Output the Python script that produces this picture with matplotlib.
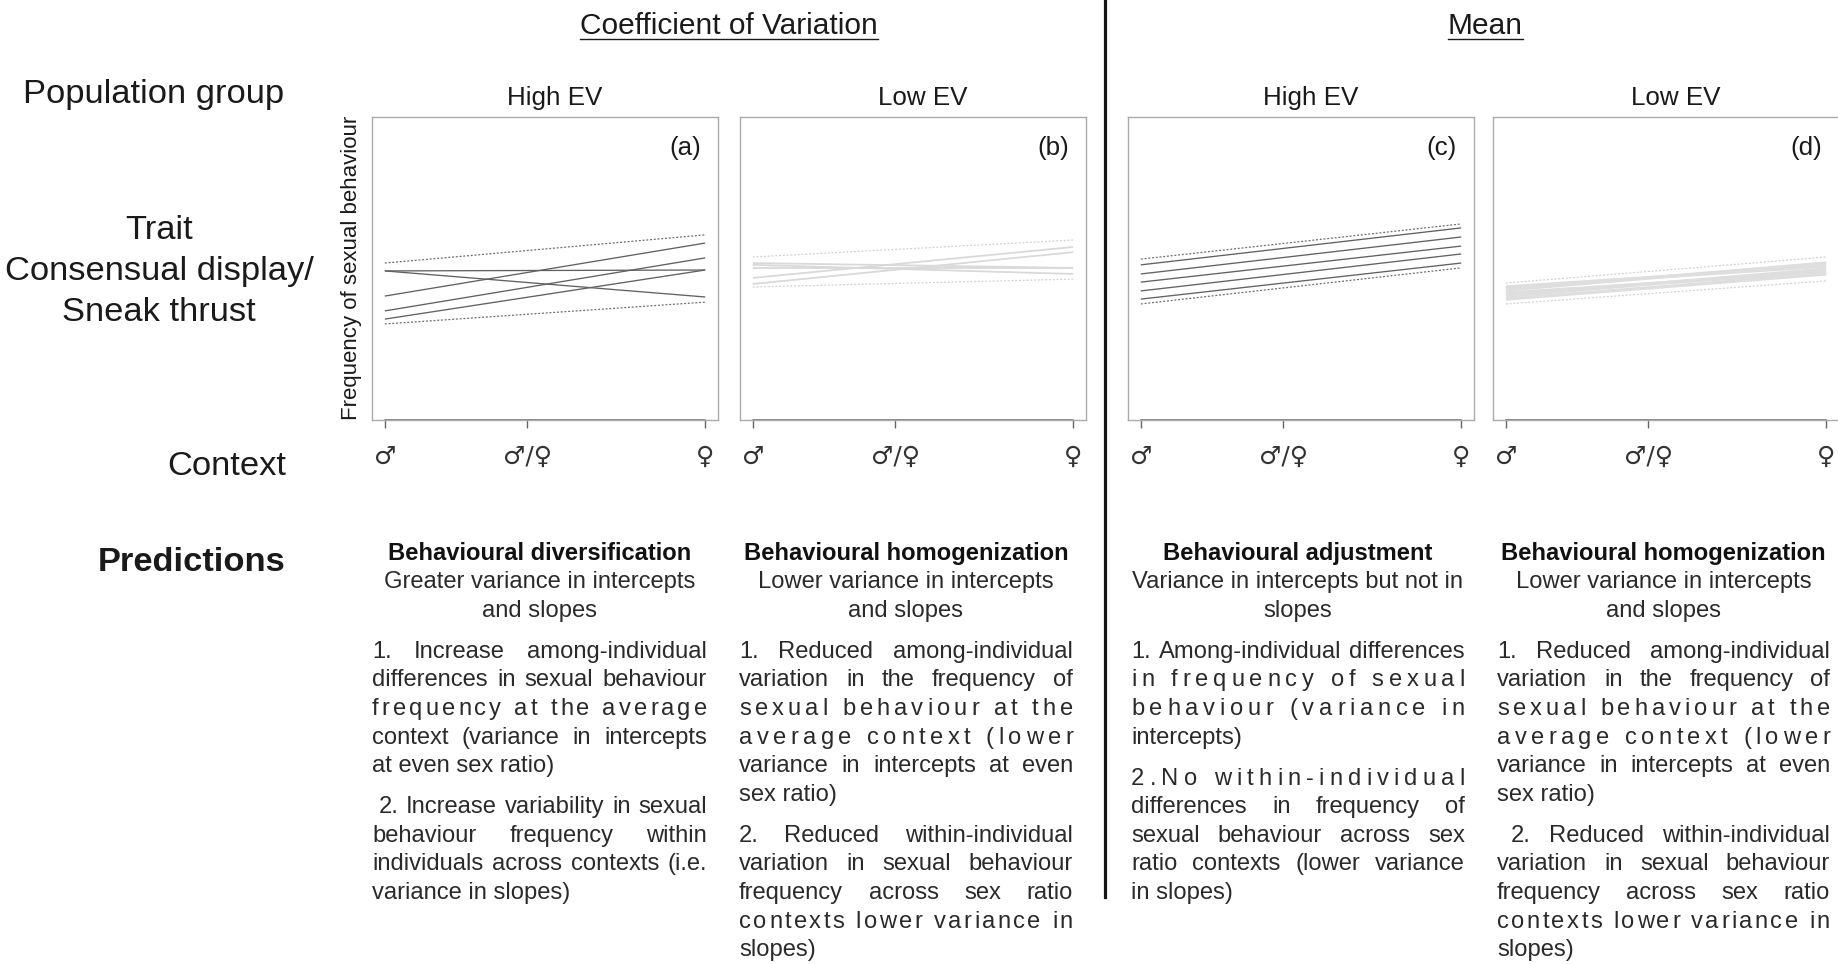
import matplotlib
matplotlib.use('Agg')
import matplotlib.pyplot as plt

W, H = 1838, 964
plt.rcParams['font.family'] = ['Liberation Sans', 'DejaVu Sans']

# ---- data ----
section_titles = ['Coefficient of Variation', 'Mean']
row_labels = ['Population group', 'Context', 'Predictions']
trait_lines = ['Trait', 'Consensual display/', 'Sneak thrust']
panel_titles = ['High EV', 'Low EV', 'High EV', 'Low EV']
panel_tags = ['(a)', '(b)', '(c)', '(d)']
context_x = [-1, 0, 1.25]
context_labels = ['\u2642', '\u2642/\u2640', '\u2640']
ylabel = 'Frequency of sexual behaviour'

# reaction norms: frequency at the male-biased and at the female-biased context
a_start = [4.92, 4.92, 4.09, 3.60, 3.33]
a_end = [4.95, 4.06, 5.84, 5.35, 4.95]
a_lim_start = [5.18, 3.17]
a_lim_end = [6.11, 3.89]

b_start = [5.18, 5.02, 5.12, 4.69, 4.49]
b_end = [5.02, 5.02, 4.82, 5.71, 5.54]
b_lim_start = [5.38, 4.39]
b_lim_end = [5.94, 4.65]

c_start = [5.12, 4.82, 4.55, 4.26, 3.99]
c_end = [6.34, 6.04, 5.74, 5.48, 5.18]
c_lim_start = [5.31, 3.83]
c_lim_end = [6.47, 5.02]

d_start = [4.39, 4.29, 4.19, 4.09, 3.99]
d_end = [5.08, 5.18, 4.88, 4.98, 4.82]
d_lim_start = [4.52, 3.83]
d_lim_end = [5.38, 4.59]

pred_titles = ['Behavioural diversification', 'Behavioural homogenization',
               'Behavioural adjustment', 'Behavioural homogenization']
pred_sub = [['Greater variance in intercepts', 'and slopes'],
            ['Lower variance in intercepts', 'and slopes'],
            ['Variance in intercepts but not in', 'slopes'],
            ['Lower variance in intercepts', 'and slopes']]
pred_p1 = [['1. Increase among-individual', 'differences in sexual behaviour',
            'frequency at the average', 'context (variance in intercepts',
            'at even sex ratio)'],
           ['1. Reduced among-individual', 'variation in the frequency of',
            'sexual behaviour at the', 'average context (lower',
            'variance in intercepts at even', 'sex ratio)'],
           ['1. Among-individual differences', 'in frequency of sexual',
            'behaviour (variance in', 'intercepts)'],
           ['1. Reduced among-individual', 'variation in the frequency of',
            'sexual behaviour at the', 'average context (lower',
            'variance in intercepts at even', 'sex ratio)']]
pred_p2 = [[' 2. Increase variability in sexual', 'behaviour frequency within',
            'individuals across contexts (i.e.', 'variance in slopes)'],
           ['2. Reduced within-individual', 'variation in sexual behaviour',
            'frequency across sex ratio', 'contexts lower variance in', 'slopes)'],
           ['2.No within-individual', 'differences in frequency of',
            'sexual behaviour across sex', 'ratio contexts (lower variance',
            'in slopes)'],
           ['  2. Reduced within-individual', 'variation in sexual behaviour',
            'frequency across sex ratio', 'contexts lower variance in', 'slopes)']]
# lines that the original spreads letter by letter instead of word by word
letter_spaced = {'frequency at the average', 'sexual behaviour at the',
                 'average context (lower', 'in frequency of sexual',
                 'behaviour (variance in', '2.No within-individual',
                 'contexts lower variance in'}

# ---- figure ----
fig = plt.figure(figsize=(W / 100, H / 100), dpi=100)
ax0 = fig.add_axes([0, 0, 1, 1])
ax0.set_xlim(0, W)
ax0.set_ylim(H, 0)
ax0.axis('off')
renderer = fig.canvas.get_renderer()

TXT = '#1a1a1a'
_cache = {}


def tw(s, size, weight='normal'):
    key = (s, size, weight)
    if key not in _cache:
        t = ax0.text(0, 0, s, fontsize=size, fontweight=weight)
        _cache[key] = t.get_window_extent(renderer).width
        t.remove()
    return _cache[key]


def adv(s, size):
    return tw('H' + s + 'H', size) - tw('HH', size)


def put_line(line, left, right, y, size, mode, color):
    n_ind = len(line) - len(line.lstrip(' '))
    text = line.strip()
    x0 = left + n_ind * adv(' ', size)
    avail = right - x0
    kw = dict(fontsize=size, va='center', ha='left', color=color)
    if mode == 'left':
        ax0.text(x0, y, text, **kw)
        return
    if mode == 'chars':
        parts = list(text)
    else:
        parts = text.split(' ')
    widths = [adv(p, size) for p in parts]
    gap = (avail - sum(widths)) / max(len(parts) - 1, 1)
    x = x0
    for p, w in zip(parts, widths):
        if p != ' ':
            ax0.text(x, y, p, **kw)
        x += w + gap


# section headers (underlined) and divider
for title, cx in zip(section_titles, [729, 1485]):
    ax0.text(cx, 34, title, fontsize=21.5, ha='center', va='baseline', color=TXT)
    w = tw(title, 21.5)
    ax0.plot([cx - w / 2, cx + w / 2], [38.5, 38.5], color=TXT, lw=1.0)
ax0.plot([1105, 1105], [0, 897], color='#151515', lw=2.3)

# row labels on the left
ax0.text(284, 103, row_labels[0], fontsize=24.8, ha='right', va='baseline', color=TXT)
ax0.text(286, 475, row_labels[1], fontsize=24.8, ha='right', va='baseline', color=TXT)
ax0.text(285, 571, row_labels[2], fontsize=24.8, ha='right', va='baseline',
         fontweight='bold', color=TXT)
for line, yb in zip(trait_lines, [239, 280, 321]):
    ax0.text(159, yb, line, fontsize=24.8, ha='center', va='baseline', color=TXT)

ax0.text(351, 268, ylabel, fontsize=16, rotation=90, ha='center', va='center', color=TXT)

# ---- panels ----
panels = [
    (a_start, a_end, a_lim_start, a_lim_end, '#616161', '#707070', 0.95),
    (b_start, b_end, b_lim_start, b_lim_end, '#d9d9d9', '#d2d2d2', 1.3),
    (c_start, c_end, c_lim_start, c_lim_end, '#616161', '#707070', 0.95),
    (d_start, d_end, d_lim_start, d_lim_end, '#dedede', '#d2d2d2', 2.4),
]
lefts = [372, 740, 1128, 1493]
for i, (s0, s1, l0, l1, col, dcol, lw) in enumerate(panels):
    ax = fig.add_axes([lefts[i] / W, (H - 420) / H, 346 / W, 303 / H])
    ax.patch.set_alpha(0)
    xs = [context_x[0], context_x[-1]]
    for y0, y1 in zip(s0, s1):
        ax.plot(xs, [y0, y1], color=col, lw=lw, solid_capstyle='butt')
    for y0, y1 in zip(l0, l1):
        ax.plot(xs, [y0, y1], color=dcol, lw=0.9, ls=(0, (1.6, 1.4)))
    ax.set_xlim(-1.09, 1.34)
    ax.set_ylim(0, 10)
    ax.set_yticks([])
    ax.set_xticks(context_x)
    ax.set_xticklabels(context_labels, fontsize=18, color='#333333',
                       family='DejaVu Sans')
    ax.tick_params(axis='x', length=6, width=1, color='#666666', pad=12)
    for sp in ax.spines.values():
        sp.set_color('#ababab')
        sp.set_linewidth(1.0)
    ax.plot(xs, [0, 0], transform=ax.get_xaxis_transform(), color='#666666',
            lw=1.1, clip_on=False)
    ax.text(1 - 17 / 346, 1 - 31 / 303, panel_tags[i], transform=ax.transAxes,
            fontsize=18.7, ha='right', va='center', color=TXT)
    ax0.text(lefts[i] + 183, 105, panel_titles[i], fontsize=18.7, ha='center',
             va='baseline', color=TXT)

# ---- prediction text columns ----
col_left = [372, 739, 1131, 1497]
col_right = [707, 1073, 1465, 1830]
PS = 17.1
step, gap = 28.6, 12.4
for i in range(4):
    cx = (col_left[i] + col_right[i]) / 2
    y = 553.5
    ax0.text(cx, y, pred_titles[i], fontsize=PS, fontweight='bold', ha='center',
             va='center', color='#111111')
    for line in pred_sub[i]:
        y += step
        ax0.text(cx, y, line, fontsize=PS, ha='center', va='center', color='#2a2a2a')
    for para in (pred_p1[i], pred_p2[i]):
        y += gap
        for k, line in enumerate(para):
            y += step
            if k == len(para) - 1:
                mode = 'left'
            elif line.strip() in letter_spaced:
                mode = 'chars'
            else:
                mode = 'words'
            put_line(line, col_left[i], col_right[i], y, PS, mode, '#2a2a2a')

fig.savefig('out.png', dpi=100)
